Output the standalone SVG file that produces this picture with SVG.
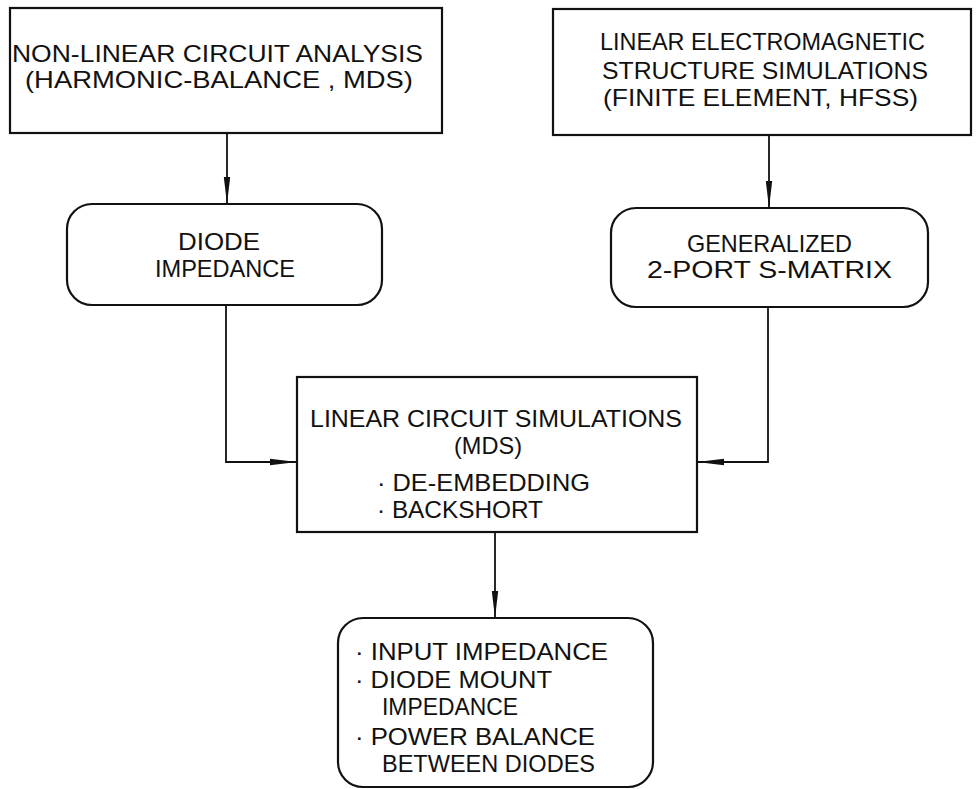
<svg xmlns="http://www.w3.org/2000/svg" width="978" height="789" viewBox="0 0 978 789">
<style>
.box{fill:none;stroke:#111;stroke-width:2.2}
.t{font-family:"Liberation Sans",Arial,sans-serif;font-size:24px;fill:#111}
.ln{fill:none;stroke:#111;stroke-width:1.8}
</style>
<defs>
<marker id="ah" markerUnits="userSpaceOnUse" markerWidth="28" markerHeight="10" viewBox="0 0 28 10" refX="27" refY="5" orient="auto">
<path d="M0,1.8 L27,5 L0,8.2 Z" fill="#111"/>
</marker>
</defs>
<rect width="978" height="789" fill="#fff"/>
<g id="nonlinear">
<rect class="box" x="10" y="8" width="432" height="125"/>
<text class="t" x="12" y="62" textLength="411" lengthAdjust="spacingAndGlyphs">NON-LINEAR  CIRCUIT  ANALYSIS</text>
<text class="t" x="25" y="88" textLength="388" lengthAdjust="spacingAndGlyphs">(HARMONIC-BALANCE , MDS)</text>
</g>
<g id="em">
<rect class="box" x="553" y="9" width="418" height="126"/>
<text class="t" x="600" y="50" textLength="325" lengthAdjust="spacingAndGlyphs">LINEAR  ELECTROMAGNETIC</text>
<text class="t" x="602" y="79" textLength="326" lengthAdjust="spacingAndGlyphs">STRUCTURE  SIMULATIONS</text>
<text class="t" x="603" y="106" textLength="315" lengthAdjust="spacingAndGlyphs">(FINITE  ELEMENT,  HFSS)</text>
</g>
<g id="diode">
<rect class="box" x="67" y="204" width="315" height="101" rx="25" ry="25"/>
<text class="t" x="178" y="250" textLength="82" lengthAdjust="spacingAndGlyphs">DIODE</text>
<text class="t" x="155" y="277" textLength="140" lengthAdjust="spacingAndGlyphs">IMPEDANCE</text>
</g>
<g id="smatrix">
<rect class="box" x="611" y="208" width="317" height="99" rx="25" ry="25"/>
<text class="t" x="687" y="252" textLength="165" lengthAdjust="spacingAndGlyphs">GENERALIZED</text>
<text class="t" x="647" y="278" textLength="245" lengthAdjust="spacingAndGlyphs">2-PORT  S-MATRIX</text>
</g>
<g id="linear">
<rect class="box" x="297" y="377" width="400" height="155"/>
<text class="t" x="310" y="427" textLength="372" lengthAdjust="spacingAndGlyphs">LINEAR  CIRCUIT  SIMULATIONS</text>
<text class="t" x="454" y="454" textLength="68" lengthAdjust="spacingAndGlyphs">(MDS)</text>
<text class="t" x="377" y="491" textLength="213" lengthAdjust="spacingAndGlyphs">· DE-EMBEDDING</text>
<text class="t" x="377" y="518" textLength="166" lengthAdjust="spacingAndGlyphs">· BACKSHORT</text>
</g>
<g id="results">
<rect class="box" x="338" y="618" width="315" height="169" rx="25" ry="25"/>
<text class="t" x="355" y="660" textLength="253" lengthAdjust="spacingAndGlyphs">· INPUT  IMPEDANCE</text>
<text class="t" x="355" y="688" textLength="197" lengthAdjust="spacingAndGlyphs">· DIODE  MOUNT</text>
<text class="t" x="382" y="715" textLength="136" lengthAdjust="spacingAndGlyphs">IMPEDANCE</text>
<text class="t" x="355" y="745" textLength="240" lengthAdjust="spacingAndGlyphs">· POWER  BALANCE</text>
<text class="t" x="382" y="772" textLength="213" lengthAdjust="spacingAndGlyphs">BETWEEN  DIODES</text>
</g>
<g id="connectors">
<path class="ln" d="M227,133 L227,204" marker-end="url(#ah)"/>
<path class="ln" d="M769,135 L769,208" marker-end="url(#ah)"/>
<path class="ln" d="M226,305 L226,462 L297,462" marker-end="url(#ah)"/>
<path class="ln" d="M768,307 L768,462 L697,462" marker-end="url(#ah)"/>
<path class="ln" d="M495,532 L495,618" marker-end="url(#ah)"/>
</g>
</svg>
